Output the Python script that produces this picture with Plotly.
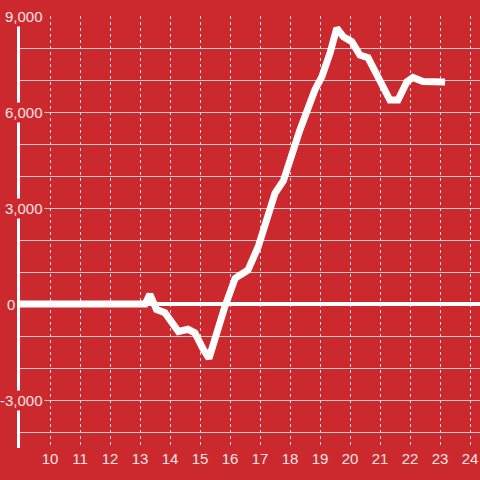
"""Red cumulative line chart with white stroke."""

import plotly.graph_objects as go

# hour of day and value
hours = [9.0, 13.0, 13.17, 13.33, 13.55, 13.83, 14.28, 14.6, 14.83, 15.1, 15.3,
         15.83, 16.17, 16.33, 16.6, 16.94, 17.22, 17.5, 17.78, 18.33, 18.83,
         19.06, 19.33, 19.56, 19.78, 20.06, 20.33, 20.6, 21.33, 21.6, 21.9,
         22.1, 22.43, 23.17]
values = [0, 0, 0, 300, -170, -270, -860, -790, -900, -1400, -1700,
          -80, 800, 900, 1060, 1790, 2625, 3460, 3850, 5440, 6690,
          7100, 7830, 8620, 8350, 8200, 7780, 7700, 6375, 6375, 6950,
          7080, 6950, 6940]

x_ticks = list(range(10, 25))
y_label_vals = [9000, 6000, 3000, 0, -3000]
y_label_text = ["9,000", "6,000", "3,000", "0", "-3,000"]

BG = "#cc292e"
TEXT = "#f5e3e3"

fig = go.Figure()
fig.add_trace(
    go.Scatter(
        x=hours,
        y=values,
        mode="lines",
        line=dict(color="white", width=7),
        showlegend=False,
    )
)

# y labels sit on a red box that hides the axis line and gridlines
for v, t in zip(y_label_vals, y_label_text):
    fig.add_annotation(
        x=0,
        xref="paper",
        y=v,
        yref="y",
        text=t,
        showarrow=False,
        xanchor="right",
        xshift=25 if v != 0 else -3,
        bgcolor=BG,
        borderpad=1,
        font=dict(family="Liberation Sans, Arial", size=15, color=TEXT),
    )

fig.update_layout(
    width=480,
    height=480,
    margin=dict(l=20, r=0, t=16, b=32),
    paper_bgcolor=BG,
    plot_bgcolor=BG,
    font=dict(family="Liberation Sans, Arial", size=15, color=TEXT),
)

fig.update_xaxes(
    range=[9, 24.333],
    tickvals=x_ticks,
    showgrid=True,
    gridcolor="#dddddd",
    griddash="dot",
    gridwidth=1,
    zeroline=False,
    showline=False,
    ticks="",
)

fig.update_yaxes(
    range=[-4500, 9000],
    dtick=1000,
    showticklabels=False,
    showgrid=True,
    gridcolor="#cccccc",
    gridwidth=1,
    zeroline=True,
    zerolinecolor="white",
    zerolinewidth=4,
    showline=True,
    linecolor="white",
    linewidth=3,
)

# page has a default body margin; drop it so the chart fills the window
fig.write_html(
    "out.html",
    config={"displayModeBar": False},
    post_script="document.body.style.margin='0';",
)
